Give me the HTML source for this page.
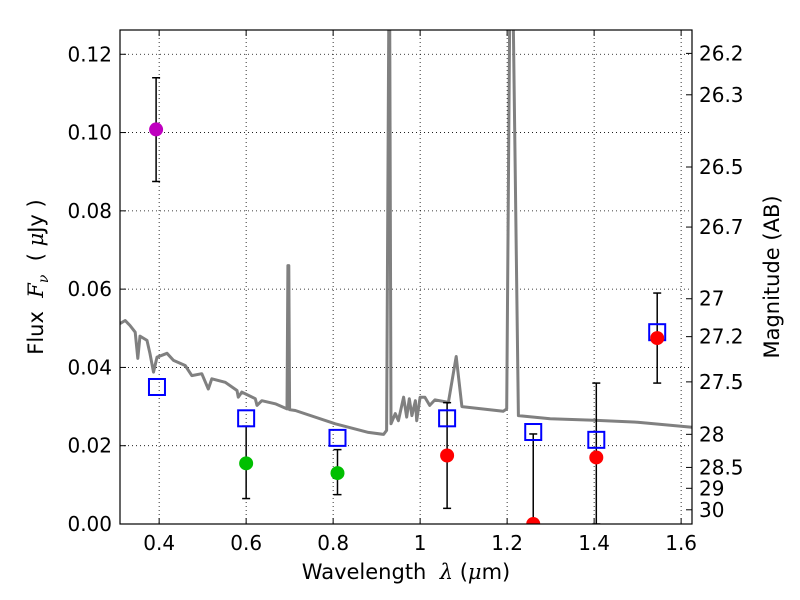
<!DOCTYPE html>
<html><head><meta charset="utf-8"><style>
body{margin:0;background:#fff;position:relative;width:800px;height:600px;overflow:hidden}
#chart{position:absolute;left:0;top:0}
svg text{font-family:"DejaVu Sans","Liberation Sans",sans-serif;fill:#000;}
</style></head><body>
<svg id="chart" width="800" height="600" xmlns="http://www.w3.org/2000/svg"></svg>
<script>
const xTicks=[0.4,0.6,0.8,1.0,1.2,1.4,1.6];
const xTickLabels=["0.4","0.6","0.8","1","1.2","1.4","1.6"];
const yTicks=[0,0.02,0.04,0.06,0.08,0.10,0.12];
const yTickLabels=["0.00","0.02","0.04","0.06","0.08","0.10","0.12"];
const magTicks=[26.2,26.3,26.5,26.7,27,27.2,27.5,28,28.5,29,30];
const magTickLabels=["26.2","26.3","26.5","26.7","27","27.2","27.5","28","28.5","29","30"];
const specLam=[0.310,0.322,0.333,0.345,0.351,0.356,0.372,0.379,0.387,0.395,0.418,0.433,0.46,0.475,0.498,0.513,0.521,0.552,0.579,0.582,0.59,0.621,0.625,0.636,0.667,0.694,0.696,0.698,0.700,0.713,0.805,0.881,0.916,0.923,0.928,0.930,0.933,0.943,0.95,0.962,0.969,0.975,0.981,0.989,0.992,1.0,1.011,1.022,1.034,1.065,1.083,1.096,1.191,1.199,1.206,1.214,1.226,1.299,1.4,1.5,1.625];
const specFlux=[0.0512,0.052,0.0507,0.049,0.0423,0.048,0.0469,0.0435,0.0388,0.0426,0.0436,0.0418,0.0405,0.0379,0.0384,0.0345,0.0371,0.0362,0.0341,0.0324,0.0337,0.032,0.0303,0.0315,0.0307,0.0294,0.066,0.066,0.0292,0.029,0.0256,0.0234,0.0229,0.0239,0.13,0.13,0.0256,0.0282,0.0264,0.0324,0.0273,0.032,0.0277,0.0315,0.0264,0.0324,0.0324,0.0303,0.0317,0.0311,0.0428,0.030,0.0288,0.0294,0.13,0.13,0.0277,0.0269,0.0265,0.026,0.0247];
const sqLam=[0.395,0.6,0.81,1.062,1.26,1.405,1.545];
const sqFlux=[0.035,0.027,0.022,0.027,0.0235,0.0215,0.049];
const purpleLam=[0.393];const purpleFlux=[0.1008];const purpleLo=[0.0875];const purpleHi=[0.114];
const greenLam=[0.6,0.81];const greenFlux=[0.0155,0.013];const greenLo=[0.0065,0.0075];const greenHi=[0.025,0.019];
const redLam=[1.062,1.26,1.405,1.545];const redFlux=[0.0175,0.0,0.017,0.0475];const redLo=[0.004,0.0,0.0,0.036];const redHi=[0.031,0.023,0.036,0.059];

const L=120,R=692,T=30,B=524;
const xmin=0.31,xmax=1.625,ymin=0,ymax=0.1262;
const X=v=>L+(v-xmin)/(xmax-xmin)*(R-L);
const Y=v=>B-(v-ymin)/(ymax-ymin)*(B-T);
const magY=m=>Y(Math.pow(10,(23.9-m)/2.5));
const svg=document.getElementById('chart');
const NS='http://www.w3.org/2000/svg';
function mk(tag,attrs,parent){const e=document.createElementNS(NS,tag);for(const k in attrs)e.setAttribute(k,attrs[k]);(parent||svg).appendChild(e);return e;}

const clip=mk('clipPath',{id:'pc'});mk('rect',{x:L,y:T,width:R-L,height:B-T},clip);
const grid=mk('g',{});


xTicks.forEach(v=>{mk('line',{x1:X(v),x2:X(v),y1:T,y2:B,stroke:'#000','stroke-width':0.8,'stroke-dasharray':'1,3'},grid);});
yTicks.forEach(v=>{mk('line',{x1:L,x2:R,y1:Y(v),y2:Y(v),stroke:'#000','stroke-width':0.8,'stroke-dasharray':'1,3'},grid);});

const plot=mk('g',{'clip-path':'url(#pc)'});
const sp=specLam.map((l,i)=>X(l).toFixed(1)+','+Y(specFlux[i]).toFixed(1)).join(' ');
const spec=mk('polyline',{points:sp,fill:'none',stroke:'#808080','stroke-width':3,'stroke-linejoin':'round'},plot);



function errbars(lams,lo,hi,name){lams.forEach((l,i)=>{const g=mk('g',{},plot);


const x=X(l);mk('line',{x1:x,x2:x,y1:Y(lo[i]),y2:Y(hi[i]),stroke:'#000','stroke-width':1.5},g);
mk('line',{x1:x-4,x2:x+4,y1:Y(lo[i]),y2:Y(lo[i]),stroke:'#000','stroke-width':1.5},g);
mk('line',{x1:x-4,x2:x+4,y1:Y(hi[i]),y2:Y(hi[i]),stroke:'#000','stroke-width':1.5},g);});}
errbars(purpleLam,purpleLo,purpleHi,'purple');
errbars(greenLam,greenLo,greenHi,'green');
errbars(redLam,redLo,redHi,'red');
sqLam.forEach((l,i)=>{const r=mk('rect',{x:X(l)-8,y:Y(sqFlux[i])-8,width:16,height:16,fill:'none',stroke:'#0000ff','stroke-width':2},plot);

});
function dots(lams,fl,col,name){lams.forEach((l,i)=>{const c=mk('circle',{cx:X(l),cy:Y(fl[i]),r:7,fill:col},plot);

});}
dots(purpleLam,purpleFlux,'#bf00bf','purple');
dots(greenLam,greenFlux,'#00bf00','green');
dots(redLam,redFlux,'#ff0000','red');

const frame=mk('rect',{x:L,y:T,width:R-L,height:B-T,fill:'none',stroke:'#000','stroke-width':1.2});


xTicks.forEach((v,i)=>{mk('line',{x1:X(v),x2:X(v),y1:B,y2:B-6,stroke:'#000'});mk('line',{x1:X(v),x2:X(v),y1:T,y2:T+6,stroke:'#000'});
const t=mk('text',{x:X(v),y:B+26,'text-anchor':'middle','font-size':20});t.textContent=xTickLabels[i];

});
yTicks.forEach((v,i)=>{mk('line',{x1:L,x2:L+6,y1:Y(v),y2:Y(v),stroke:'#000'});
const t=mk('text',{x:L-8,y:Y(v)+7,'text-anchor':'end','font-size':20});t.textContent=yTickLabels[i];

});
magTicks.forEach((m,i)=>{const y=magY(m);mk('line',{x1:R,x2:R-6,y1:y,y2:y,stroke:'#000'});
const t=mk('text',{x:R+7,y:y+7,'font-size':20});t.textContent=magTickLabels[i];

});
</script>
<div style="position:absolute;left:0;top:560px;width:812px;text-align:center;font:21px 'DejaVu Sans','Liberation Sans',sans-serif;">Wavelength &nbsp;<i style="font-family:'DejaVu Serif',serif">λ</i> (<i style="font-family:'DejaVu Serif',serif">μ</i>m)</div>
<div style="position:absolute;left:38px;top:277px;transform:translate(-50%,-50%) rotate(-90deg);white-space:nowrap;font:21px 'DejaVu Sans','Liberation Sans',sans-serif;">Flux &nbsp;<i style="font-family:'DejaVu Serif',serif">F<sub style="font-size:14px">ν</sub></i> &nbsp;( <i style="font-family:'DejaVu Serif',serif">μ</i>Jy )</div>
<div style="position:absolute;left:772px;top:277px;transform:translate(-50%,-50%) rotate(-90deg);white-space:nowrap;font:21px 'DejaVu Sans','Liberation Sans',sans-serif;">Magnitude (AB)</div>
</body></html>
